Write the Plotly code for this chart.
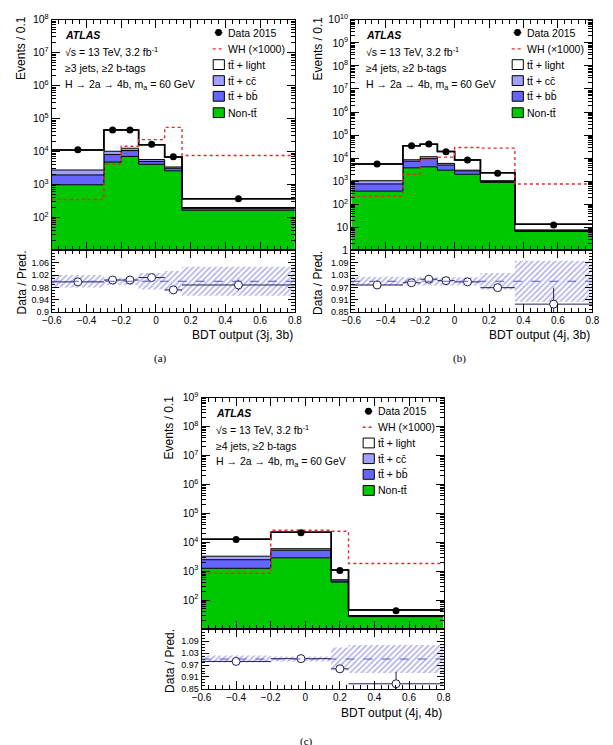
import plotly.graph_objects as go
import numpy as np

W, H = 613, 745

# ---------------- data: panel (a)  3j, 3b ----------------
edges_a = [-0.6, -0.3, -0.2, -0.1, 0.05, 0.15, 0.8]
nontt_a = [980, 4800, 7100, 4100, 2600, 165]
ttbb_a = [970, 3300, 3600, 900, 500, 20]
ttcc_a = [800, 2100, 1900, 700, 300, 15]
ttlight_a = [8450, 34800, 32400, 10300, 3400, 170]
wh_a = [350, 4200, 14500, 23000, 54000, 7600]
data_a = [11300, 45000, 45000, 16500, 6900, 370]
ratio_a = [0.998, 1.004, 1.004, 1.012, 0.972, 0.988]
ratio_err_a = [0.003, 0.002, 0.002, 0.003, 0.005, 0.017]
syst_a = [0.02, 0.012, 0.012, 0.027, 0.033, 0.047]

# ---------------- data: panel (b)  4j, 3b ----------------
edges_b = [-0.6, -0.3, -0.2, -0.1, 0.0, 0.15, 0.35, 0.8]
nontt_b = [370, 3800, 4200, 3000, 2000, 890, 6.6]
ttbb_b = [390, 3500, 5300, 2000, 800, 90, 0.6]
ttcc_b = [290, 1200, 2000, 900, 200, 70, 0.5]
ttlight_b = [4550, 25500, 28500, 13600, 5300, 1250, 5.8]
wh_b = [220, 2000, 8700, 11000, 29000, 27000, 760]
data_b = [5500, 34000, 41000, 19000, 8300, 2200, 12.5]
ratio_b = [0.982, 0.993, 1.01, 1.003, 0.997, 0.969, 0.889]
ratio_err_b = [0.004, 0.002, 0.002, 0.003, 0.004, 0.008, 0.08]
syst_b = [0.022, 0.02, 0.02, 0.02, 0.02, 0.04, 0.1]

# ---------------- data: panel (c)  4j, 4b ----------------
edges_c = [-0.6, -0.2, 0.15, 0.25, 0.8]
nontt_c = [1260, 2900, 420, 27]
ttbb_c = [1240, 2400, 40, 1.5]
ttcc_c = [800, 700, 50, 1]
ttlight_c = [9300, 16000, 590, 16.5]
wh_c = [850, 26000, 24000, 1850]
data_c = [12400, 21500, 1050, 43]
ratio_c = [0.988, 1.002, 0.951, 0.876]
ratio_err_c = [0.003, 0.002, 0.02, 0.06]
syst_c = [0.018, 0.013, 0.058, 0.07]

legend_labels = ["Data 2015", "WH (\u00d71000)", "tt\u0304 + light",
                 "tt\u0304 + cc\u0304", "tt\u0304 + bb\u0304", "Non-tt\u0304"]

C_GREEN = "#00c800"
C_BB = "#6464ff"
C_CC = "#a0a0ff"
C_LIGHT = "#ffffff"
C_WH = "#e8282a"
FONT = "Liberation Sans, Arial, sans-serif"


def fx(x):
    return x / W


def fy(y):
    return 1 - y / H


panels = [
    dict(edges=edges_a, nontt=nontt_a, ttbb=ttbb_a, ttcc=ttcc_a, ttlight=ttlight_a,
         wh=wh_a, data=data_a, ratio=ratio_a, rerr=ratio_err_a, syst=syst_a,
         xpx=(43, 293), main_px=(12, 247), ratio_px=(247, 310), ylog=(1, 8),
         ylab_exps=list(range(2, 9)), rrange=(0.9, 1.1),
         rticks=[0.9, 0.94, 0.98, 1.02, 1.06], rminor=0.01,
         jets="\u22653 jets, \u22652 b-tags", xtitle="BDT output (3j, 3b)",
         text_x=55, text_y=[27.7, 44, 61, 78],
         leg_x=222.5, leg_y=[25, 41.7, 57.7, 74, 90, 106.7],
         ytitle_x=12, ytitle_y=41, rtitle_y=280, xtitle_y=333,
         tag="(a)", tag_xy=(155, 357)),
    dict(edges=edges_b, nontt=nontt_b, ttbb=ttbb_b, ttcc=ttcc_b, ttlight=ttlight_b,
         wh=wh_b, data=data_b, ratio=ratio_b, rerr=ratio_err_b, syst=syst_b,
         xpx=(351, 599), main_px=(12, 247), ratio_px=(247, 310), ylog=(0, 10),
         ylab_exps=list(range(0, 11)), rrange=(0.85, 1.15),
         rticks=[0.85, 0.91, 0.97, 1.03, 1.09], rminor=0.015,
         jets="\u22654 jets, \u22652 b-tags", xtitle="BDT output (4j, 3b)",
         text_x=364, text_y=[27.7, 44, 61, 78],
         leg_x=530, leg_y=[25, 41.7, 57.7, 74, 90, 106.7],
         ytitle_x=317, ytitle_y=41, rtitle_y=280, xtitle_y=333,
         tag="(b)", tag_xy=(462, 357)),
    dict(edges=edges_c, nontt=nontt_c, ttbb=ttbb_c, ttcc=ttcc_c, ttlight=ttlight_c,
         wh=wh_c, data=data_c, ratio=ratio_c, rerr=ratio_err_c, syst=syst_c,
         xpx=(197, 446), main_px=(397, 633), ratio_px=(633, 694), ylog=(1, 9),
         ylab_exps=list(range(2, 10)), rrange=(0.85, 1.15),
         rticks=[0.85, 0.91, 0.97, 1.03, 1.09], rminor=0.015,
         jets="\u22654 jets, \u22652 b-tags", xtitle="BDT output (4j, 4b)",
         text_x=210, text_y=[412.7, 429.3, 446.7, 462.7],
         leg_x=376.7, leg_y=[411, 427.3, 443.3, 459.3, 475.3, 491.7],
         ytitle_x=164, ytitle_y=427, rtitle_y=665, xtitle_y=718,
         tag="(c)", tag_xy=(305, 748)),
]

fig = go.Figure()
layout = dict(width=W, height=H, margin=dict(l=0, r=0, t=0, b=0),
              paper_bgcolor="white", plot_bgcolor="white",
              barmode="overlay", showlegend=False,
              font=dict(family=FONT, color="black"))
annotations = []
shapes = []


def ax_name(kind, i):
    return kind + "axis" + ("" if i == 1 else str(i))


def ax_ref(kind, i):
    return kind + ("" if i == 1 else str(i))


def step(vals):
    v = list(vals)
    return v + [v[-1]]


for p_i, p in enumerate(panels):
    im = 2 * p_i + 1
    ir = 2 * p_i + 2
    xm, ym = ax_ref("x", im), ax_ref("y", im)
    xr, yr = ax_ref("x", ir), ax_ref("y", ir)

    e = np.array(p["edges"])
    centers = (e[:-1] + e[1:]) / 2
    widths = np.diff(e)
    c1 = np.array(p["nontt"], float)
    c2 = c1 + np.array(p["ttbb"])
    c3 = c2 + np.array(p["ttcc"])
    c4 = c3 + np.array(p["ttlight"])
    syst = np.array(p["syst"])
    lo, hi = p["ylog"]
    floor = 10.0 ** (lo - 1)

    # stacked histogram drawn as filled step curves
    fig.add_trace(go.Scatter(x=list(e), y=[floor] * len(e), xaxis=xm, yaxis=ym, mode="lines",
                             line=dict(width=0, shape="hv"), hoverinfo="skip"))
    for vals, col, lw in [(c1, C_GREEN, 1.0), (c2, C_BB, 1.0), (c3, C_CC, 1.0), (c4, C_LIGHT, 1.5)]:
        fig.add_trace(go.Scatter(x=list(e), y=step(vals), xaxis=xm, yaxis=ym, mode="lines",
                                 fill="tonexty", fillcolor=col,
                                 line=dict(color="black", width=lw, shape="hv")))
    # uncertainty band on total prediction
    band = syst * 0.35
    fig.add_trace(go.Scatter(x=list(e), y=step(c4 * (1 - band)), xaxis=xm, yaxis=ym, mode="lines",
                             line=dict(width=0, shape="hv"), hoverinfo="skip"))
    fig.add_trace(go.Scatter(x=list(e), y=step(c4 * (1 + band)), xaxis=xm, yaxis=ym, mode="lines",
                             fill="tonexty", fillcolor="rgba(0,0,0,0)",
                             fillpattern=dict(shape="/", fgcolor="#8888aa", size=4, solidity=0.3),
                             line=dict(width=0, shape="hv")))
    # redraw total outline on top of the band
    fig.add_trace(go.Scatter(x=list(e), y=step(c4), xaxis=xm, yaxis=ym, mode="lines",
                             line=dict(color="black", width=1.5, shape="hv")))
    # WH signal (x1000)
    fig.add_trace(go.Scatter(x=list(e), y=step(p["wh"]), xaxis=xm, yaxis=ym,
                             mode="lines", line=dict(shape="hv", color=C_WH, dash="dot", width=1.4)))
    # data
    fig.add_trace(go.Scatter(x=centers, y=p["data"], xaxis=xm, yaxis=ym, mode="markers",
                             marker=dict(color="black", size=7)))

    # ratio band
    fig.add_trace(go.Bar(x=centers, y=2 * syst, base=1 - syst, width=widths, xaxis=xr, yaxis=yr,
                         marker=dict(color="rgba(0,0,0,0)", line=dict(width=0),
                                     pattern=dict(shape="/", fgcolor="#6464d4", size=4, solidity=0.4))))
    fig.add_trace(go.Scatter(x=centers, y=p["ratio"], xaxis=xr, yaxis=yr, mode="markers",
                             marker=dict(color="white", size=8, line=dict(color="#202050", width=1)),
                             error_x=dict(type="data", array=widths / 2, color="#202050", thickness=1, width=0),
                             error_y=dict(type="data", array=p["rerr"], color="#202050", thickness=1, width=0)))
    shapes.append(dict(type="line", xref=xr, yref=yr, x0=-0.6, x1=0.8, y0=1, y1=1,
                       line=dict(color="#5a5ac8", width=1, dash="dash"), layer="above"))

    xdom = [fx(p["xpx"][0]), fx(p["xpx"][1])]
    mdom = [fy(p["main_px"][1]), fy(p["main_px"][0])]
    rdom = [fy(p["ratio_px"][1]), fy(p["ratio_px"][0])]

    common_x = dict(range=[-0.6, 0.8], tickmode="linear", tick0=-0.6, dtick=0.2,
                    ticks="inside", ticklen=8, tickcolor="black", showline=True, linecolor="black",
                    linewidth=1, mirror="allticks", showgrid=False, zeroline=False,
                    minor=dict(ticks="inside", ticklen=4, tickcolor="black", dtick=0.04, tick0=-0.6,
                               showgrid=False))
    layout[ax_name("x", im)] = dict(common_x, domain=xdom, anchor=ym, showticklabels=False)
    layout[ax_name("x", ir)] = dict(common_x, domain=xdom, anchor=yr, showticklabels=True,
                                    tickfont=dict(size=10, family=FONT), ticklabelstandoff=-1)

    minor_vals = [k * 10.0 ** n for n in range(lo, hi) for k in range(2, 10)]
    tickvals = [10.0 ** n for n in p["ylab_exps"]]
    ticktext = []
    for n in p["ylab_exps"]:
        if n == 0:
            ticktext.append("1")
        elif n == 1:
            ticktext.append("10")
        else:
            ticktext.append("10<sup>%d</sup>" % n)
    layout[ax_name("y", im)] = dict(type="log", range=[lo, hi], domain=mdom, anchor=xm,
                                    tickmode="array", tickvals=tickvals, ticktext=ticktext,
                                    ticks="inside", ticklen=8, tickcolor="black", showline=True,
                                    linecolor="black", linewidth=1, mirror="allticks", showgrid=False,
                                    tickfont=dict(size=10.5, family=FONT),
                                    minor=dict(tickmode="array", tickvals=minor_vals, ticks="inside",
                                               ticklen=4, tickcolor="black", showgrid=False))
    rminor = list(np.arange(p["rrange"][0], p["rrange"][1] + 1e-9, p["rminor"]))
    layout[ax_name("y", ir)] = dict(range=list(p["rrange"]), domain=rdom, anchor=xr,
                                    tickmode="array", tickvals=p["rticks"],
                                    ticktext=[("%g" % v) for v in p["rticks"]],
                                    ticks="inside", ticklen=7, tickcolor="black", showline=True,
                                    linecolor="black", linewidth=1, mirror="allticks", showgrid=False,
                                    zeroline=False, tickfont=dict(size=9, family=FONT),
                                    minor=dict(tickmode="array", tickvals=rminor, ticks="inside",
                                               ticklen=3.5, tickcolor="black", showgrid=False))

    # --- panel text ---
    texts = ["<b><i>ATLAS</i></b>", "\u221As = 13 TeV, 3.2 fb<sup>-1</sup>", p["jets"],
             "H \u2192 2a \u2192 4b, m<sub>a</sub> = 60 GeV"]
    for t, yy in zip(texts, p["text_y"]):
        annotations.append(dict(text=t, x=fx(p["text_x"]), y=fy(yy), xref="paper", yref="paper",
                                xanchor="left", yanchor="middle", showarrow=False,
                                font=dict(size=10.5, family=FONT)))
    # --- legend ---
    lx = p["leg_x"]
    for lab, yy in zip(legend_labels, p["leg_y"]):
        annotations.append(dict(text=lab, x=fx(lx), y=fy(yy), xref="paper", yref="paper",
                                xanchor="left", yanchor="middle", showarrow=False,
                                font=dict(size=10.5, family=FONT)))
    y0 = p["leg_y"][0]
    shapes.append(dict(type="line", xref="paper", yref="paper", x0=fx(lx - 12), x1=fx(lx - 4),
                       y0=fy(y0), y1=fy(y0), line=dict(color="black", width=1)))
    shapes.append(dict(type="circle", xref="paper", yref="paper", x0=fx(lx - 11.5), x1=fx(lx - 4.5),
                       y0=fy(y0 - 3.5), y1=fy(y0 + 3.5), fillcolor="black", line=dict(color="black", width=0)))
    y1 = p["leg_y"][1]
    shapes.append(dict(type="line", xref="paper", yref="paper", x0=fx(lx - 14), x1=fx(lx - 2),
                       y0=fy(y1), y1=fy(y1), line=dict(color=C_WH, width=1.3, dash="dot")))
    for col, yy in zip([C_LIGHT, C_CC, C_BB, C_GREEN], p["leg_y"][2:]):
        shapes.append(dict(type="rect", xref="paper", yref="paper", x0=fx(lx - 13.5), x1=fx(lx - 2),
                           y0=fy(yy - 5), y1=fy(yy + 5), fillcolor=col,
                           line=dict(color="black", width=1)))
    # --- axis titles ---
    annotations.append(dict(text="Events / 0.1", x=fx(p["ytitle_x"]), y=fy(p["ytitle_y"]),
                            xref="paper", yref="paper", textangle=-90, showarrow=False,
                            xanchor="center", yanchor="middle", font=dict(size=12, family=FONT)))
    annotations.append(dict(text="Data / Pred.", x=fx(p["ytitle_x"]), y=fy(p["rtitle_y"]),
                            xref="paper", yref="paper", textangle=-90, showarrow=False,
                            xanchor="center", yanchor="middle", font=dict(size=12, family=FONT)))
    annotations.append(dict(text=p["xtitle"], x=fx(p["xpx"][1]), y=fy(p["xtitle_y"]),
                            xref="paper", yref="paper", showarrow=False,
                            xanchor="right", yanchor="middle", font=dict(size=12, family=FONT)))
    annotations.append(dict(text=p["tag"], x=fx(p["tag_xy"][0]), y=fy(p["tag_xy"][1]),
                            xref="paper", yref="paper", showarrow=False,
                            xanchor="center", yanchor="middle",
                            font=dict(size=11, family="Liberation Serif, serif")))

layout["annotations"] = annotations
layout["shapes"] = shapes
fig.update_layout(**layout)
fig.write_html("out.html")
